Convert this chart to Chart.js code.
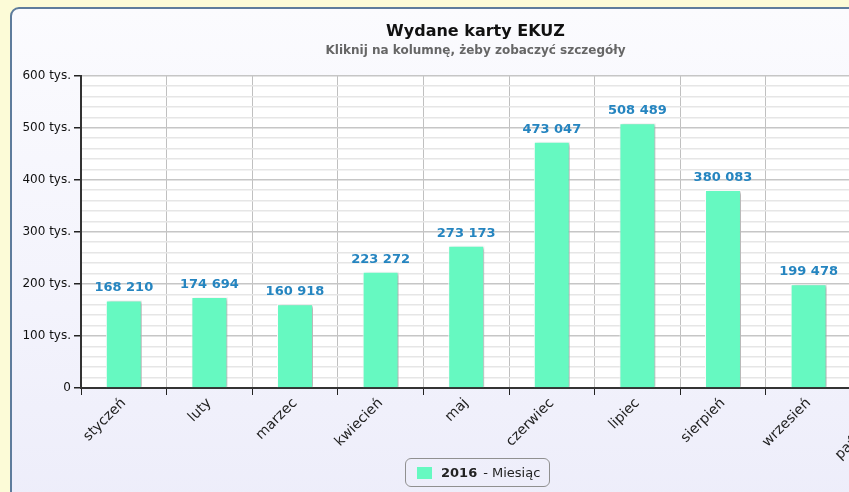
<!DOCTYPE html>
<html><head><meta charset="utf-8">
<script src="https://cdn.jsdelivr.net/npm/chart.js@4"></script>
<style>
html,body{margin:0;padding:0;width:849px;height:492px;overflow:hidden;background:#fcfbd7;}
#frame{position:absolute;left:10px;top:7px;width:932px;height:500px;border:2px solid #5e7c9c;border-radius:9px;
background:linear-gradient(to bottom,#fbfbfe 0%,#f3f3fc 60%,#ededfa 100%);}
#wrap{position:absolute;left:2px;top:2px;width:930px;height:480px;}
#legend{position:absolute;left:393px;top:449px;height:27px;padding:0 9px 0 11px;border:1px solid #909090;border-radius:6px;
font:13px 'DejaVu Sans',sans-serif;color:#222;display:flex;align-items:center;white-space:nowrap;}
#legend .sw{display:inline-block;width:15px;height:12px;background:#66f9c1;margin-right:9px;}
#legend b{margin-right:6px;}
</style></head>
<body>
<div id="frame"><div id="wrap"><canvas id="c"></canvas></div>
<div id="legend"><span class="sw"></span><b>2016</b><span>- Miesiąc</span></div></div>
<script>
const categories = ['styczeń','luty','marzec','kwiecień','maj','czerwiec','lipiec','sierpień','wrzesień','październik'];
const values2016 = [168210,174694,160918,223272,273173,473047,508489,380083,199478,null];
const yTickLabels = {0:'0',100000:'100 tys.',200000:'200 tys.',300000:'300 tys.',400000:'400 tys.',500000:'500 tys.',600000:'600 tys.'};
const titleText = 'Wydane karty EKUZ';
const subtitleText = 'Kliknij na kolumnę, żeby zobaczyć szczegóły';

function fmt(v){return String(v).replace(/\B(?=(\d{3})+(?!\d))/g,' ');}

const plotBgPlugin = {
  id:'plotBg',
  beforeDraw(chart){const a=chart.chartArea,c=chart.ctx;c.save();c.fillStyle='#ffffff';c.fillRect(a.left,a.top,a.right-a.left,a.bottom-a.top);c.restore();}
};
const shadowPlugin = {
  id:'shadow',
  beforeDatasetsDraw(chart){const c=chart.ctx;c.save();c.shadowColor='rgba(0,0,0,0.35)';c.shadowBlur=3;c.shadowOffsetX=2;c.shadowOffsetY=1;},
  afterDatasetsDraw(chart){chart.ctx.restore();}
};
const labelPlugin = {
  id:'valueLabels',
  afterDatasetsDraw(chart){
    const c=chart.ctx; const meta=chart.getDatasetMeta(0);
    c.save(); c.font="bold 13px 'DejaVu Sans', sans-serif"; c.fillStyle='#2585c0'; c.textAlign='center'; c.textBaseline='bottom';
    meta.data.forEach((bar,i)=>{const v=chart.data.datasets[0].data[i]; if(v==null)return; c.fillText(fmt(v),bar.x,bar.y-6);});
    c.restore();
  }
};

new Chart(document.getElementById('c'),{
  type:'bar',
  data:{labels:categories,datasets:[{label:'2016',data:values2016,backgroundColor:'#66f9c1',borderColor:'#ffffff',borderWidth:1,
    categoryPercentage:1,barPercentage:0.42}]},
  plugins:[plotBgPlugin,shadowPlugin,labelPlugin],
  options:{
    responsive:true,maintainAspectRatio:false,animation:false,
    layout:{padding:{left:0,right:7,top:0,bottom:0}},
    plugins:{
      legend:{display:false},tooltip:{enabled:false},
      title:{display:true,text:titleText,color:'#111',font:{family:'DejaVu Sans',size:16,weight:'bold'},padding:{top:11,bottom:2}},
      subtitle:{display:true,text:subtitleText,color:'#666',font:{family:'DejaVu Sans',size:12,weight:'bold'},padding:{top:0,bottom:18}}
    },
    scales:{
      x:{
        grid:{offset:true,color:'#c0c0c0',lineWidth:1,drawTicks:true,tickLength:7,tickColor:'#222'},
        border:{color:'#333',width:2},
        ticks:{color:'#222',font:{family:'DejaVu Sans',size:14},maxRotation:45,minRotation:45,padding:0},
        afterFit(s){s.height=103;}
      },
      y:{
        min:0,max:600000,
        grid:{color:(ctx)=>ctx.tick && ctx.tick.value%100000===0?'#c6c6c6':'#e6e6e6',lineWidth:1.5,
          tickLength:7,tickColor:(ctx)=>ctx.tick && ctx.tick.value%100000===0?'#222':'rgba(0,0,0,0)'},
        border:{color:'#333',width:2},
        ticks:{stepSize:20000,autoSkip:false,color:'#111',font:{family:'DejaVu Sans',size:12},padding:3,
          callback:(v)=> (v in yTickLabels)?yTickLabels[v]:''},
        afterFit(s){s.width=67;}
      }
    }
  }
});
</script>
</body></html>
